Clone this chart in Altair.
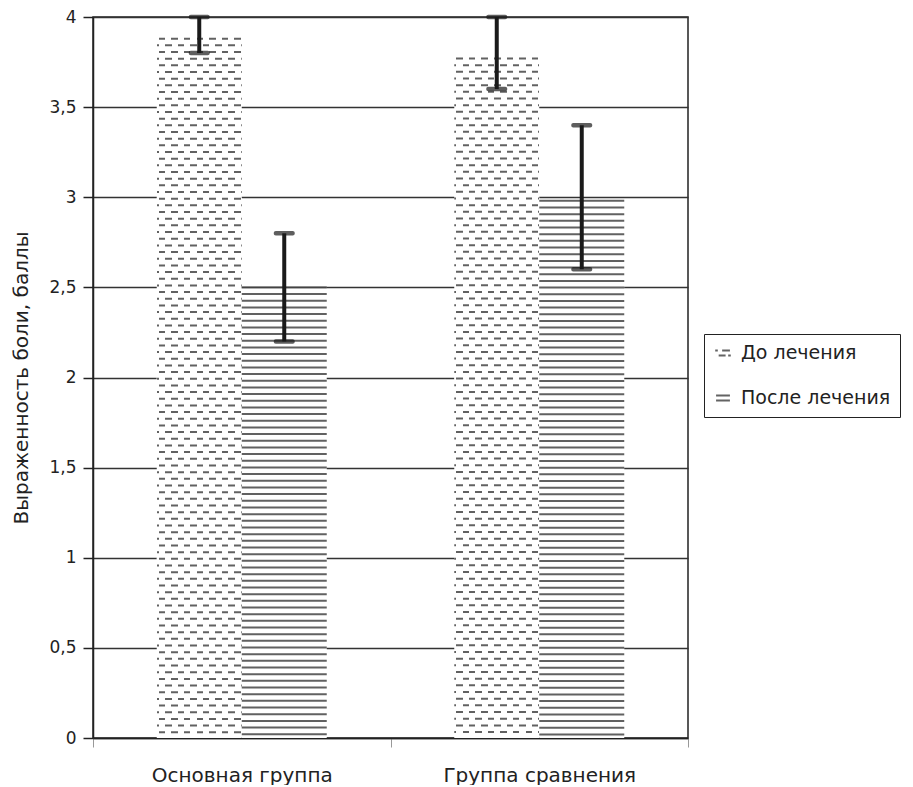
import altair as alt
import pandas as pd

# ---- data ----
categories = ["Основная группа", "Группа сравнения"]
series = ["До лечения", "После лечения"]
before_mean = [3.88, 3.77]
after_mean = [2.50, 2.98]
before_low = [3.80, 3.60]
before_high = [4.00, 4.00]
after_low = [2.20, 2.60]
after_high = [2.80, 3.40]
y_ticks = [0, 0.5, 1, 1.5, 2, 2.5, 3, 3.5, 4]
y_title = "Выраженность боли, баллы"

rows = []
for i, c in enumerate(categories):
    rows.append(dict(category=c, series=series[0], value=before_mean[i],
                     low=before_low[i], high=before_high[i]))
    rows.append(dict(category=c, series=series[1], value=after_mean[i],
                     low=after_low[i], high=after_high[i]))
df = pd.DataFrame(rows)

# ---- hatch pattern (decoration) derived from the bar values ----
ROW_STEP = 0.037
hatch = []
for r in rows:
    k = 0
    while r["value"] - k * ROW_STEP >= 0:
        hatch.append(dict(category=r["category"], series=r["series"],
                          y=r["value"] - k * ROW_STEP, parity=k % 2))
        k += 1
hdf = pd.DataFrame(hatch)

BAR_PX = 85.0
PERIOD = 12.6
DASH = 6.5
INK = "#1e1e1e"


def dash_gradient(phase_px):
    stops = [{"offset": 0, "color": "white"}]
    x = phase_px - PERIOD
    while x < BAR_PX:
        a = max(x, 0.0) / BAR_PX
        b = min(x + DASH, BAR_PX) / BAR_PX
        if b > a:
            stops += [{"offset": a, "color": "white"}, {"offset": a, "color": INK},
                      {"offset": b, "color": INK}, {"offset": b, "color": "white"}]
        x += PERIOD
    stops.append({"offset": 1, "color": "white"})
    return {"gradient": "linear", "x1": 0, "y1": 0, "x2": 1, "y2": 0, "stops": stops}


FONT = "DejaVu Sans"

x_enc = alt.X("category:N", sort=categories,
              scale=alt.Scale(paddingInner=0, paddingOuter=0),
              axis=alt.Axis(title=None, labelAngle=0, labelFontSize=20, labelColor="#222",
                            labelPadding=18, labelLimit=400, tickBand="extent", tickSize=9,
                            tickColor="#999", domainColor="#222", domainWidth=1.5))
xo_enc = alt.XOffset("series:N", sort=series,
                     scale=alt.Scale(paddingOuter=0.75, paddingInner=0))
y_scale = alt.Scale(domain=[0, 4], nice=False)

base = alt.Chart(df)

# hidden legend carrier (covered by the white bars)
path_before = "M-0.9,-0.3L-0.6,-0.3M-0.1,-0.3L0.8,-0.3M-0.5,0.3L0.3,0.3M0.6,0.3L0.9,0.3"
path_after = "M-0.8,-0.3L0.8,-0.3M-0.8,0.3L0.8,0.3"
legend_layer = base.transform_calculate(mid="datum.value / 2").mark_point(
    filled=False, size=30, strokeWidth=1, color="white").encode(
    x=x_enc, xOffset=xo_enc,
    y=alt.Y("mid:Q", scale=y_scale, title=y_title),
    shape=alt.Shape("series:N", sort=series, title=None,
                    scale=alt.Scale(domain=series, range=[path_before, path_after]),
                    legend=alt.Legend(orient="none", legendX=611, legendY=317,
                                      strokeColor="#222", padding=9,
                                      labelFontSize=19, labelColor="#222", labelFont=FONT,
                                      labelLimit=400,
                                      symbolStrokeColor="#222", symbolStrokeWidth=2,
                                      symbolFillColor="transparent", symbolSize=300,
                                      rowPadding=25, labelOffset=8)),
)

bars = base.mark_bar(color="white").encode(
    x=x_enc, xOffset=xo_enc,
    y=alt.Y("value:Q", scale=y_scale, title=y_title,
            axis=alt.Axis(values=y_ticks,
                          labelExpr="replace(toString(datum.value), '.', ',')",
                          labelFontSize=17, labelColor="#222", labelPadding=7,
                          tickSize=10, tickColor="#222", tickWidth=1.5,
                          domainColor="#222", domainWidth=1.5,
                          grid=True, gridColor="#333", gridWidth=1.5,
                          titleFontSize=20, titleFontWeight="normal", titleColor="#222",
                          titlePadding=17)),
)

hatch_base = alt.Chart(hdf)
after_rows = hatch_base.transform_filter(
    alt.datum.series == series[1]).mark_tick(color=INK, size=BAR_PX, thickness=2).encode(
    x=x_enc, xOffset=xo_enc, y=alt.Y("y:Q", scale=y_scale, title=y_title))
before_rows_a = hatch_base.transform_filter(
    (alt.datum.series == series[0]) & (alt.datum.parity == 0)).mark_tick(
    color=dash_gradient(2.0), size=BAR_PX, thickness=2).encode(
    x=x_enc, xOffset=xo_enc, y=alt.Y("y:Q", scale=y_scale, title=y_title))
before_rows_b = hatch_base.transform_filter(
    (alt.datum.series == series[0]) & (alt.datum.parity == 1)).mark_tick(
    color=dash_gradient(8.3), size=BAR_PX, thickness=2).encode(
    x=x_enc, xOffset=xo_enc, y=alt.Y("y:Q", scale=y_scale, title=y_title))

err = base.mark_rule(color="#1a1a1a", strokeWidth=4).encode(
    x=x_enc, xOffset=xo_enc,
    y=alt.Y("low:Q", scale=y_scale, title=y_title), y2="high:Q")
cap_low = base.mark_tick(color="#1a1a1a", size=21, thickness=4.5, cornerRadius=2).encode(
    x=x_enc, xOffset=xo_enc, y=alt.Y("low:Q", scale=y_scale, title=y_title))
cap_high = base.mark_tick(color="#1a1a1a", size=21, thickness=4.5, cornerRadius=2).encode(
    x=x_enc, xOffset=xo_enc, y=alt.Y("high:Q", scale=y_scale, title=y_title))

chart = alt.layer(legend_layer, bars, after_rows, before_rows_a, before_rows_b,
                  err, cap_low, cap_high).properties(
    width=595, height=721,
    padding={"left": 3, "top": 0, "right": 0, "bottom": 0}
).configure(font=FONT).configure_view(stroke="#222", strokeWidth=1.5)

chart.save("out.html", embed_options={"renderer": "svg", "actions": False})
